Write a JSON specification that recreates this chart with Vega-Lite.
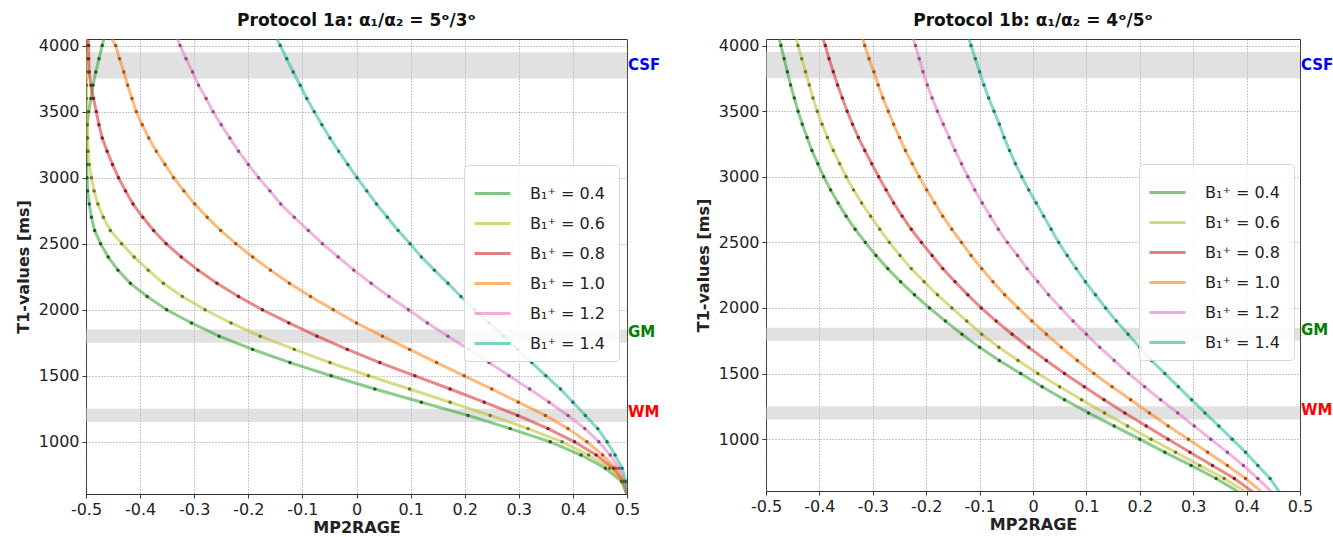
{
"$schema": "https://vega.github.io/schema/vega-lite/v6.json",
"background": "white",
"padding": {"left": 14, "top": 11, "right": 5, "bottom": 0},
"config": {
  "font": "DejaVu Sans",
  "view": {"stroke": "#333", "strokeWidth": 1},
  "axis": {"grid": true, "gridColor": "#777", "gridDash": [1, 2], "gridWidth": 0.8, "domain": false, "tickColor": "#333", "tickSize": 4, "labelFontSize": 16, "labelColor": "#222", "titleFontSize": 16, "titleFontWeight": "bold", "titleColor": "#222", "labelPadding": 3, "labelFlush": false},
  "axisX": {"titlePadding": 2},
  "axisY": {"titlePadding": 7},
  "title": {"fontSize": 17, "fontWeight": "bold", "color": "#111", "offset": 8},
  "legend": {"symbolType": "stroke", "symbolSize": 1296, "symbolStrokeWidth": 3, "symbolOpacity": 0.6, "labelOffset": 18, "labelFontSize": 16, "labelColor": "#222", "rowPadding": 2, "padding": 9, "strokeColor": "#d8d8d8", "fillColor": "rgba(255,255,255,0.85)", "cornerRadius": 4}
},
"datasets": {
  "bands": [
    {"lo": 3750, "hi": 3950, "lab": "CSF", "ly": 3850},
    {"lo": 1750, "hi": 1850, "lab": "GM", "ly": 1830},
    {"lo": 1150, "hi": 1250, "lab": "WM", "ly": 1225}
  ],
  "pts": [
{"p":"a","b":"0.4","t":4050,"m":-0.467},{"p":"a","b":"0.4","t":4000,"m":-0.470},{"p":"a","b":"0.4","t":3900,"m":-0.476},{"p":"a","b":"0.4","t":3800,"m":-0.482},{"p":"a","b":"0.4","t":3700,"m":-0.487},{"p":"a","b":"0.4","t":3600,"m":-0.491},{"p":"a","b":"0.4","t":3500,"m":-0.495},{"p":"a","b":"0.4","t":3400,"m":-0.498},{"p":"a","b":"0.4","t":3300,"m":-0.499},{"p":"a","b":"0.4","t":3200,"m":-0.4995},{"p":"a","b":"0.4","t":3100,"m":-0.499},{"p":"a","b":"0.4","t":3000,"m":-0.498},{"p":"a","b":"0.4","t":2900,"m":-0.497},{"p":"a","b":"0.4","t":2800,"m":-0.494},{"p":"a","b":"0.4","t":2700,"m":-0.490},{"p":"a","b":"0.4","t":2600,"m":-0.484},{"p":"a","b":"0.4","t":2500,"m":-0.473},{"p":"a","b":"0.4","t":2400,"m":-0.459},{"p":"a","b":"0.4","t":2300,"m":-0.441},{"p":"a","b":"0.4","t":2200,"m":-0.418},{"p":"a","b":"0.4","t":2100,"m":-0.387},{"p":"a","b":"0.4","t":2000,"m":-0.351},{"p":"a","b":"0.4","t":1900,"m":-0.305},{"p":"a","b":"0.4","t":1800,"m":-0.254},{"p":"a","b":"0.4","t":1700,"m":-0.192},{"p":"a","b":"0.4","t":1600,"m":-0.123},{"p":"a","b":"0.4","t":1500,"m":-0.047},{"p":"a","b":"0.4","t":1400,"m":0.034},{"p":"a","b":"0.4","t":1300,"m":0.120},{"p":"a","b":"0.4","t":1200,"m":0.206},{"p":"a","b":"0.4","t":1100,"m":0.284},{"p":"a","b":"0.4","t":1000,"m":0.358},{"p":"a","b":"0.4","t":900,"m":0.415},{"p":"a","b":"0.4","t":800,"m":0.460},{"p":"a","b":"0.4","t":700,"m":0.490},{"p":"a","b":"0.4","t":600,"m":0.5},
{"p":"a","b":"0.6","t":4050,"m":-0.499},{"p":"a","b":"0.6","t":4000,"m":-0.499},{"p":"a","b":"0.6","t":3900,"m":-0.499},{"p":"a","b":"0.6","t":3800,"m":-0.499},{"p":"a","b":"0.6","t":3700,"m":-0.499},{"p":"a","b":"0.6","t":3600,"m":-0.499},{"p":"a","b":"0.6","t":3500,"m":-0.498},{"p":"a","b":"0.6","t":3400,"m":-0.498},{"p":"a","b":"0.6","t":3300,"m":-0.497},{"p":"a","b":"0.6","t":3200,"m":-0.496},{"p":"a","b":"0.6","t":3100,"m":-0.494},{"p":"a","b":"0.6","t":3000,"m":-0.490},{"p":"a","b":"0.6","t":2900,"m":-0.485},{"p":"a","b":"0.6","t":2800,"m":-0.478},{"p":"a","b":"0.6","t":2700,"m":-0.468},{"p":"a","b":"0.6","t":2600,"m":-0.455},{"p":"a","b":"0.6","t":2500,"m":-0.434},{"p":"a","b":"0.6","t":2400,"m":-0.411},{"p":"a","b":"0.6","t":2300,"m":-0.385},{"p":"a","b":"0.6","t":2200,"m":-0.357},{"p":"a","b":"0.6","t":2100,"m":-0.322},{"p":"a","b":"0.6","t":2000,"m":-0.280},{"p":"a","b":"0.6","t":1900,"m":-0.232},{"p":"a","b":"0.6","t":1800,"m":-0.178},{"p":"a","b":"0.6","t":1700,"m":-0.115},{"p":"a","b":"0.6","t":1600,"m":-0.049},{"p":"a","b":"0.6","t":1500,"m":0.022},{"p":"a","b":"0.6","t":1400,"m":0.098},{"p":"a","b":"0.6","t":1300,"m":0.173},{"p":"a","b":"0.6","t":1200,"m":0.247},{"p":"a","b":"0.6","t":1100,"m":0.317},{"p":"a","b":"0.6","t":1000,"m":0.380},{"p":"a","b":"0.6","t":900,"m":0.429},{"p":"a","b":"0.6","t":800,"m":0.468},{"p":"a","b":"0.6","t":700,"m":0.492},{"p":"a","b":"0.6","t":600,"m":0.5},
{"p":"a","b":"0.8","t":4050,"m":-0.496},{"p":"a","b":"0.8","t":4000,"m":-0.495},{"p":"a","b":"0.8","t":3900,"m":-0.495},{"p":"a","b":"0.8","t":3800,"m":-0.494},{"p":"a","b":"0.8","t":3700,"m":-0.491},{"p":"a","b":"0.8","t":3600,"m":-0.486},{"p":"a","b":"0.8","t":3500,"m":-0.481},{"p":"a","b":"0.8","t":3400,"m":-0.476},{"p":"a","b":"0.8","t":3300,"m":-0.470},{"p":"a","b":"0.8","t":3200,"m":-0.461},{"p":"a","b":"0.8","t":3100,"m":-0.451},{"p":"a","b":"0.8","t":3000,"m":-0.440},{"p":"a","b":"0.8","t":2900,"m":-0.427},{"p":"a","b":"0.8","t":2800,"m":-0.413},{"p":"a","b":"0.8","t":2700,"m":-0.395},{"p":"a","b":"0.8","t":2600,"m":-0.375},{"p":"a","b":"0.8","t":2500,"m":-0.352},{"p":"a","b":"0.8","t":2400,"m":-0.324},{"p":"a","b":"0.8","t":2300,"m":-0.293},{"p":"a","b":"0.8","t":2200,"m":-0.258},{"p":"a","b":"0.8","t":2100,"m":-0.218},{"p":"a","b":"0.8","t":2000,"m":-0.174},{"p":"a","b":"0.8","t":1900,"m":-0.125},{"p":"a","b":"0.8","t":1800,"m":-0.073},{"p":"a","b":"0.8","t":1700,"m":-0.017},{"p":"a","b":"0.8","t":1600,"m":0.043},{"p":"a","b":"0.8","t":1500,"m":0.108},{"p":"a","b":"0.8","t":1400,"m":0.173},{"p":"a","b":"0.8","t":1300,"m":0.236},{"p":"a","b":"0.8","t":1200,"m":0.298},{"p":"a","b":"0.8","t":1100,"m":0.354},{"p":"a","b":"0.8","t":1000,"m":0.403},{"p":"a","b":"0.8","t":900,"m":0.443},{"p":"a","b":"0.8","t":800,"m":0.475},{"p":"a","b":"0.8","t":700,"m":0.494},{"p":"a","b":"0.8","t":600,"m":0.5},
{"p":"a","b":"1.0","t":4050,"m":-0.452},{"p":"a","b":"1.0","t":4000,"m":-0.445},{"p":"a","b":"1.0","t":3900,"m":-0.438},{"p":"a","b":"1.0","t":3800,"m":-0.430},{"p":"a","b":"1.0","t":3700,"m":-0.423},{"p":"a","b":"1.0","t":3600,"m":-0.415},{"p":"a","b":"1.0","t":3500,"m":-0.407},{"p":"a","b":"1.0","t":3400,"m":-0.396},{"p":"a","b":"1.0","t":3300,"m":-0.384},{"p":"a","b":"1.0","t":3200,"m":-0.370},{"p":"a","b":"1.0","t":3100,"m":-0.354},{"p":"a","b":"1.0","t":3000,"m":-0.338},{"p":"a","b":"1.0","t":2900,"m":-0.319},{"p":"a","b":"1.0","t":2800,"m":-0.299},{"p":"a","b":"1.0","t":2700,"m":-0.276},{"p":"a","b":"1.0","t":2600,"m":-0.251},{"p":"a","b":"1.0","t":2500,"m":-0.223},{"p":"a","b":"1.0","t":2400,"m":-0.192},{"p":"a","b":"1.0","t":2300,"m":-0.159},{"p":"a","b":"1.0","t":2200,"m":-0.124},{"p":"a","b":"1.0","t":2100,"m":-0.085},{"p":"a","b":"1.0","t":2000,"m":-0.043},{"p":"a","b":"1.0","t":1900,"m":0.0},{"p":"a","b":"1.0","t":1800,"m":0.048},{"p":"a","b":"1.0","t":1700,"m":0.098},{"p":"a","b":"1.0","t":1600,"m":0.148},{"p":"a","b":"1.0","t":1500,"m":0.199},{"p":"a","b":"1.0","t":1400,"m":0.250},{"p":"a","b":"1.0","t":1300,"m":0.299},{"p":"a","b":"1.0","t":1200,"m":0.349},{"p":"a","b":"1.0","t":1100,"m":0.391},{"p":"a","b":"1.0","t":1000,"m":0.426},{"p":"a","b":"1.0","t":900,"m":0.455},{"p":"a","b":"1.0","t":800,"m":0.479},{"p":"a","b":"1.0","t":700,"m":0.494},{"p":"a","b":"1.0","t":600,"m":0.5},
{"p":"a","b":"1.2","t":4050,"m":-0.331},{"p":"a","b":"1.2","t":4000,"m":-0.326},{"p":"a","b":"1.2","t":3900,"m":-0.315},{"p":"a","b":"1.2","t":3800,"m":-0.303},{"p":"a","b":"1.2","t":3700,"m":-0.292},{"p":"a","b":"1.2","t":3600,"m":-0.278},{"p":"a","b":"1.2","t":3500,"m":-0.265},{"p":"a","b":"1.2","t":3400,"m":-0.250},{"p":"a","b":"1.2","t":3300,"m":-0.234},{"p":"a","b":"1.2","t":3200,"m":-0.218},{"p":"a","b":"1.2","t":3100,"m":-0.200},{"p":"a","b":"1.2","t":3000,"m":-0.181},{"p":"a","b":"1.2","t":2900,"m":-0.160},{"p":"a","b":"1.2","t":2800,"m":-0.140},{"p":"a","b":"1.2","t":2700,"m":-0.115},{"p":"a","b":"1.2","t":2600,"m":-0.089},{"p":"a","b":"1.2","t":2500,"m":-0.063},{"p":"a","b":"1.2","t":2400,"m":-0.034},{"p":"a","b":"1.2","t":2300,"m":-0.005},{"p":"a","b":"1.2","t":2200,"m":0.027},{"p":"a","b":"1.2","t":2100,"m":0.060},{"p":"a","b":"1.2","t":2000,"m":0.096},{"p":"a","b":"1.2","t":1900,"m":0.131},{"p":"a","b":"1.2","t":1800,"m":0.169},{"p":"a","b":"1.2","t":1700,"m":0.208},{"p":"a","b":"1.2","t":1600,"m":0.245},{"p":"a","b":"1.2","t":1500,"m":0.282},{"p":"a","b":"1.2","t":1400,"m":0.320},{"p":"a","b":"1.2","t":1300,"m":0.356},{"p":"a","b":"1.2","t":1200,"m":0.391},{"p":"a","b":"1.2","t":1100,"m":0.422},{"p":"a","b":"1.2","t":1000,"m":0.448},{"p":"a","b":"1.2","t":900,"m":0.469},{"p":"a","b":"1.2","t":800,"m":0.485},{"p":"a","b":"1.2","t":700,"m":0.496},{"p":"a","b":"1.2","t":600,"m":0.5},
{"p":"a","b":"1.4","t":4050,"m":-0.147},{"p":"a","b":"1.4","t":4000,"m":-0.141},{"p":"a","b":"1.4","t":3900,"m":-0.129},{"p":"a","b":"1.4","t":3800,"m":-0.117},{"p":"a","b":"1.4","t":3700,"m":-0.104},{"p":"a","b":"1.4","t":3600,"m":-0.092},{"p":"a","b":"1.4","t":3500,"m":-0.078},{"p":"a","b":"1.4","t":3400,"m":-0.064},{"p":"a","b":"1.4","t":3300,"m":-0.049},{"p":"a","b":"1.4","t":3200,"m":-0.033},{"p":"a","b":"1.4","t":3100,"m":-0.016},{"p":"a","b":"1.4","t":3000,"m":0.001},{"p":"a","b":"1.4","t":2900,"m":0.019},{"p":"a","b":"1.4","t":2800,"m":0.037},{"p":"a","b":"1.4","t":2700,"m":0.057},{"p":"a","b":"1.4","t":2600,"m":0.077},{"p":"a","b":"1.4","t":2500,"m":0.099},{"p":"a","b":"1.4","t":2400,"m":0.120},{"p":"a","b":"1.4","t":2300,"m":0.144},{"p":"a","b":"1.4","t":2200,"m":0.169},{"p":"a","b":"1.4","t":2100,"m":0.193},{"p":"a","b":"1.4","t":2000,"m":0.218},{"p":"a","b":"1.4","t":1900,"m":0.245},{"p":"a","b":"1.4","t":1800,"m":0.272},{"p":"a","b":"1.4","t":1700,"m":0.298},{"p":"a","b":"1.4","t":1600,"m":0.324},{"p":"a","b":"1.4","t":1500,"m":0.350},{"p":"a","b":"1.4","t":1400,"m":0.377},{"p":"a","b":"1.4","t":1300,"m":0.400},{"p":"a","b":"1.4","t":1200,"m":0.423},{"p":"a","b":"1.4","t":1100,"m":0.446},{"p":"a","b":"1.4","t":1000,"m":0.463},{"p":"a","b":"1.4","t":900,"m":0.478},{"p":"a","b":"1.4","t":800,"m":0.491},{"p":"a","b":"1.4","t":700,"m":0.498},{"p":"a","b":"1.4","t":600,"m":0.5},
{"p":"b","b":"0.4","t":4050,"m":-0.475},{"p":"b","b":"0.4","t":4000,"m":-0.472},{"p":"b","b":"0.4","t":3900,"m":-0.466},{"p":"b","b":"0.4","t":3800,"m":-0.460},{"p":"b","b":"0.4","t":3700,"m":-0.454},{"p":"b","b":"0.4","t":3600,"m":-0.447},{"p":"b","b":"0.4","t":3500,"m":-0.440},{"p":"b","b":"0.4","t":3400,"m":-0.432},{"p":"b","b":"0.4","t":3300,"m":-0.423},{"p":"b","b":"0.4","t":3200,"m":-0.414},{"p":"b","b":"0.4","t":3100,"m":-0.403},{"p":"b","b":"0.4","t":3000,"m":-0.392},{"p":"b","b":"0.4","t":2900,"m":-0.379},{"p":"b","b":"0.4","t":2800,"m":-0.365},{"p":"b","b":"0.4","t":2700,"m":-0.350},{"p":"b","b":"0.4","t":2600,"m":-0.333},{"p":"b","b":"0.4","t":2500,"m":-0.314},{"p":"b","b":"0.4","t":2400,"m":-0.294},{"p":"b","b":"0.4","t":2300,"m":-0.272},{"p":"b","b":"0.4","t":2200,"m":-0.248},{"p":"b","b":"0.4","t":2100,"m":-0.222},{"p":"b","b":"0.4","t":2000,"m":-0.194},{"p":"b","b":"0.4","t":1900,"m":-0.164},{"p":"b","b":"0.4","t":1800,"m":-0.133},{"p":"b","b":"0.4","t":1700,"m":-0.100},{"p":"b","b":"0.4","t":1600,"m":-0.063},{"p":"b","b":"0.4","t":1500,"m":-0.023},{"p":"b","b":"0.4","t":1400,"m":0.017},{"p":"b","b":"0.4","t":1300,"m":0.059},{"p":"b","b":"0.4","t":1200,"m":0.104},{"p":"b","b":"0.4","t":1100,"m":0.152},{"p":"b","b":"0.4","t":1000,"m":0.200},{"p":"b","b":"0.4","t":900,"m":0.247},{"p":"b","b":"0.4","t":800,"m":0.296},{"p":"b","b":"0.4","t":700,"m":0.343},{"p":"b","b":"0.4","t":600,"m":0.384},
{"p":"b","b":"0.6","t":4050,"m":-0.443},{"p":"b","b":"0.6","t":4000,"m":-0.440},{"p":"b","b":"0.6","t":3900,"m":-0.433},{"p":"b","b":"0.6","t":3800,"m":-0.426},{"p":"b","b":"0.6","t":3700,"m":-0.419},{"p":"b","b":"0.6","t":3600,"m":-0.412},{"p":"b","b":"0.6","t":3500,"m":-0.404},{"p":"b","b":"0.6","t":3400,"m":-0.395},{"p":"b","b":"0.6","t":3300,"m":-0.385},{"p":"b","b":"0.6","t":3200,"m":-0.374},{"p":"b","b":"0.6","t":3100,"m":-0.362},{"p":"b","b":"0.6","t":3000,"m":-0.350},{"p":"b","b":"0.6","t":2900,"m":-0.336},{"p":"b","b":"0.6","t":2800,"m":-0.321},{"p":"b","b":"0.6","t":2700,"m":-0.304},{"p":"b","b":"0.6","t":2600,"m":-0.287},{"p":"b","b":"0.6","t":2500,"m":-0.269},{"p":"b","b":"0.6","t":2400,"m":-0.249},{"p":"b","b":"0.6","t":2300,"m":-0.228},{"p":"b","b":"0.6","t":2200,"m":-0.204},{"p":"b","b":"0.6","t":2100,"m":-0.179},{"p":"b","b":"0.6","t":2000,"m":-0.152},{"p":"b","b":"0.6","t":1900,"m":-0.124},{"p":"b","b":"0.6","t":1800,"m":-0.096},{"p":"b","b":"0.6","t":1700,"m":-0.064},{"p":"b","b":"0.6","t":1600,"m":-0.028},{"p":"b","b":"0.6","t":1500,"m":0.009},{"p":"b","b":"0.6","t":1400,"m":0.050},{"p":"b","b":"0.6","t":1300,"m":0.091},{"p":"b","b":"0.6","t":1200,"m":0.134},{"p":"b","b":"0.6","t":1100,"m":0.177},{"p":"b","b":"0.6","t":1000,"m":0.221},{"p":"b","b":"0.6","t":900,"m":0.267},{"p":"b","b":"0.6","t":800,"m":0.312},{"p":"b","b":"0.6","t":700,"m":0.358},{"p":"b","b":"0.6","t":600,"m":0.398},
{"p":"b","b":"0.8","t":4050,"m":-0.393},{"p":"b","b":"0.8","t":4000,"m":-0.389},{"p":"b","b":"0.8","t":3900,"m":-0.382},{"p":"b","b":"0.8","t":3800,"m":-0.374},{"p":"b","b":"0.8","t":3700,"m":-0.366},{"p":"b","b":"0.8","t":3600,"m":-0.357},{"p":"b","b":"0.8","t":3500,"m":-0.348},{"p":"b","b":"0.8","t":3400,"m":-0.338},{"p":"b","b":"0.8","t":3300,"m":-0.327},{"p":"b","b":"0.8","t":3200,"m":-0.315},{"p":"b","b":"0.8","t":3100,"m":-0.302},{"p":"b","b":"0.8","t":3000,"m":-0.289},{"p":"b","b":"0.8","t":2900,"m":-0.275},{"p":"b","b":"0.8","t":2800,"m":-0.261},{"p":"b","b":"0.8","t":2700,"m":-0.245},{"p":"b","b":"0.8","t":2600,"m":-0.228},{"p":"b","b":"0.8","t":2500,"m":-0.209},{"p":"b","b":"0.8","t":2400,"m":-0.189},{"p":"b","b":"0.8","t":2300,"m":-0.169},{"p":"b","b":"0.8","t":2200,"m":-0.146},{"p":"b","b":"0.8","t":2100,"m":-0.122},{"p":"b","b":"0.8","t":2000,"m":-0.097},{"p":"b","b":"0.8","t":1900,"m":-0.069},{"p":"b","b":"0.8","t":1800,"m":-0.039},{"p":"b","b":"0.8","t":1700,"m":-0.008},{"p":"b","b":"0.8","t":1600,"m":0.025},{"p":"b","b":"0.8","t":1500,"m":0.059},{"p":"b","b":"0.8","t":1400,"m":0.096},{"p":"b","b":"0.8","t":1300,"m":0.133},{"p":"b","b":"0.8","t":1200,"m":0.172},{"p":"b","b":"0.8","t":1100,"m":0.212},{"p":"b","b":"0.8","t":1000,"m":0.253},{"p":"b","b":"0.8","t":900,"m":0.294},{"p":"b","b":"0.8","t":800,"m":0.336},{"p":"b","b":"0.8","t":700,"m":0.377},{"p":"b","b":"0.8","t":600,"m":0.411},
{"p":"b","b":"1.0","t":4050,"m":-0.319},{"p":"b","b":"1.0","t":4000,"m":-0.315},{"p":"b","b":"1.0","t":3900,"m":-0.307},{"p":"b","b":"1.0","t":3800,"m":-0.298},{"p":"b","b":"1.0","t":3700,"m":-0.290},{"p":"b","b":"1.0","t":3600,"m":-0.281},{"p":"b","b":"1.0","t":3500,"m":-0.271},{"p":"b","b":"1.0","t":3400,"m":-0.261},{"p":"b","b":"1.0","t":3300,"m":-0.250},{"p":"b","b":"1.0","t":3200,"m":-0.239},{"p":"b","b":"1.0","t":3100,"m":-0.226},{"p":"b","b":"1.0","t":3000,"m":-0.213},{"p":"b","b":"1.0","t":2900,"m":-0.199},{"p":"b","b":"1.0","t":2800,"m":-0.184},{"p":"b","b":"1.0","t":2700,"m":-0.169},{"p":"b","b":"1.0","t":2600,"m":-0.152},{"p":"b","b":"1.0","t":2500,"m":-0.134},{"p":"b","b":"1.0","t":2400,"m":-0.116},{"p":"b","b":"1.0","t":2300,"m":-0.096},{"p":"b","b":"1.0","t":2200,"m":-0.075},{"p":"b","b":"1.0","t":2100,"m":-0.053},{"p":"b","b":"1.0","t":2000,"m":-0.028},{"p":"b","b":"1.0","t":1900,"m":-0.002},{"p":"b","b":"1.0","t":1800,"m":0.025},{"p":"b","b":"1.0","t":1700,"m":0.053},{"p":"b","b":"1.0","t":1600,"m":0.083},{"p":"b","b":"1.0","t":1500,"m":0.114},{"p":"b","b":"1.0","t":1400,"m":0.148},{"p":"b","b":"1.0","t":1300,"m":0.183},{"p":"b","b":"1.0","t":1200,"m":0.218},{"p":"b","b":"1.0","t":1100,"m":0.253},{"p":"b","b":"1.0","t":1000,"m":0.291},{"p":"b","b":"1.0","t":900,"m":0.327},{"p":"b","b":"1.0","t":800,"m":0.364},{"p":"b","b":"1.0","t":700,"m":0.398},{"p":"b","b":"1.0","t":600,"m":0.428},
{"p":"b","b":"1.2","t":4050,"m":-0.224},{"p":"b","b":"1.2","t":4000,"m":-0.220},{"p":"b","b":"1.2","t":3900,"m":-0.213},{"p":"b","b":"1.2","t":3800,"m":-0.206},{"p":"b","b":"1.2","t":3700,"m":-0.198},{"p":"b","b":"1.2","t":3600,"m":-0.189},{"p":"b","b":"1.2","t":3500,"m":-0.179},{"p":"b","b":"1.2","t":3400,"m":-0.168},{"p":"b","b":"1.2","t":3300,"m":-0.157},{"p":"b","b":"1.2","t":3200,"m":-0.146},{"p":"b","b":"1.2","t":3100,"m":-0.134},{"p":"b","b":"1.2","t":3000,"m":-0.122},{"p":"b","b":"1.2","t":2900,"m":-0.109},{"p":"b","b":"1.2","t":2800,"m":-0.095},{"p":"b","b":"1.2","t":2700,"m":-0.080},{"p":"b","b":"1.2","t":2600,"m":-0.065},{"p":"b","b":"1.2","t":2500,"m":-0.048},{"p":"b","b":"1.2","t":2400,"m":-0.029},{"p":"b","b":"1.2","t":2300,"m":-0.011},{"p":"b","b":"1.2","t":2200,"m":0.009},{"p":"b","b":"1.2","t":2100,"m":0.029},{"p":"b","b":"1.2","t":2000,"m":0.052},{"p":"b","b":"1.2","t":1900,"m":0.075},{"p":"b","b":"1.2","t":1800,"m":0.100},{"p":"b","b":"1.2","t":1700,"m":0.125},{"p":"b","b":"1.2","t":1600,"m":0.152},{"p":"b","b":"1.2","t":1500,"m":0.179},{"p":"b","b":"1.2","t":1400,"m":0.209},{"p":"b","b":"1.2","t":1300,"m":0.239},{"p":"b","b":"1.2","t":1200,"m":0.271},{"p":"b","b":"1.2","t":1100,"m":0.302},{"p":"b","b":"1.2","t":1000,"m":0.333},{"p":"b","b":"1.2","t":900,"m":0.364},{"p":"b","b":"1.2","t":800,"m":0.394},{"p":"b","b":"1.2","t":700,"m":0.421},{"p":"b","b":"1.2","t":600,"m":0.446},
{"p":"b","b":"1.4","t":4050,"m":-0.120},{"p":"b","b":"1.4","t":4000,"m":-0.116},{"p":"b","b":"1.4","t":3900,"m":-0.108},{"p":"b","b":"1.4","t":3800,"m":-0.100},{"p":"b","b":"1.4","t":3700,"m":-0.092},{"p":"b","b":"1.4","t":3600,"m":-0.083},{"p":"b","b":"1.4","t":3500,"m":-0.073},{"p":"b","b":"1.4","t":3400,"m":-0.063},{"p":"b","b":"1.4","t":3300,"m":-0.054},{"p":"b","b":"1.4","t":3200,"m":-0.044},{"p":"b","b":"1.4","t":3100,"m":-0.033},{"p":"b","b":"1.4","t":3000,"m":-0.021},{"p":"b","b":"1.4","t":2900,"m":-0.008},{"p":"b","b":"1.4","t":2800,"m":0.006},{"p":"b","b":"1.4","t":2700,"m":0.020},{"p":"b","b":"1.4","t":2600,"m":0.034},{"p":"b","b":"1.4","t":2500,"m":0.048},{"p":"b","b":"1.4","t":2400,"m":0.064},{"p":"b","b":"1.4","t":2300,"m":0.081},{"p":"b","b":"1.4","t":2200,"m":0.098},{"p":"b","b":"1.4","t":2100,"m":0.117},{"p":"b","b":"1.4","t":2000,"m":0.136},{"p":"b","b":"1.4","t":1900,"m":0.156},{"p":"b","b":"1.4","t":1800,"m":0.178},{"p":"b","b":"1.4","t":1700,"m":0.200},{"p":"b","b":"1.4","t":1600,"m":0.222},{"p":"b","b":"1.4","t":1500,"m":0.247},{"p":"b","b":"1.4","t":1400,"m":0.272},{"p":"b","b":"1.4","t":1300,"m":0.297},{"p":"b","b":"1.4","t":1200,"m":0.322},{"p":"b","b":"1.4","t":1100,"m":0.348},{"p":"b","b":"1.4","t":1000,"m":0.373},{"p":"b","b":"1.4","t":900,"m":0.398},{"p":"b","b":"1.4","t":800,"m":0.421},{"p":"b","b":"1.4","t":700,"m":0.444},{"p":"b","b":"1.4","t":600,"m":0.461}
  ]
},
"bounds": "flush",
"spacing": 139,
"resolve": {"scale": {"color": "independent", "fill": "independent"}, "legend": {"color": "independent", "fill": "independent"}},
"hconcat": [
  {
    "width": 541, "height": 455,
    "title": {"text": "Protocol 1a: α₁/α₂ = 5ᵒ/3ᵒ"},
    "layer": [
      {"data": {"name": "bands"}, "mark": {"type": "rect", "color": "#c4c4c4", "opacity": 0.5},
       "encoding": {"y": {"field": "lo", "type": "quantitative", "title": "T1-values [ms]"}, "y2": {"field": "hi"}, "x": {"datum": -0.5, "type": "quantitative", "title": "MP2RAGE"}, "x2": {"datum": 0.5}}},
      {"data": {"name": "bands"}, "transform": [{"filter": "datum.lab == 'CSF'"}], "mark": {"type": "text", "align": "left", "dx": 1, "fontWeight": "bold", "fontSize": 15, "color": "#0000ff", "clip": false},
       "encoding": {"y": {"field": "ly", "type": "quantitative", "title": "T1-values [ms]"}, "x": {"datum": 0.5, "type": "quantitative", "title": "MP2RAGE"}, "text": {"field": "lab"}}},
      {"data": {"name": "bands"}, "transform": [{"filter": "datum.lab == 'GM'"}], "mark": {"type": "text", "align": "left", "dx": 1, "fontWeight": "bold", "fontSize": 15, "color": "#008000", "clip": false},
       "encoding": {"y": {"field": "ly", "type": "quantitative", "title": "T1-values [ms]"}, "x": {"datum": 0.5, "type": "quantitative", "title": "MP2RAGE"}, "text": {"field": "lab"}}},
      {"data": {"name": "bands"}, "transform": [{"filter": "datum.lab == 'WM'"}], "mark": {"type": "text", "align": "left", "dx": 1, "fontWeight": "bold", "fontSize": 15, "color": "#ff0000", "clip": false},
       "encoding": {"y": {"field": "ly", "type": "quantitative", "title": "T1-values [ms]"}, "x": {"datum": 0.5, "type": "quantitative", "title": "MP2RAGE"}, "text": {"field": "lab"}}},
      {"data": {"name": "pts"}, "transform": [{"filter": "datum.p == 'a'"}],
       "mark": {"type": "line", "strokeWidth": 3, "opacity": 0.55, "clip": true},
       "encoding": {
         "x": {"field": "m", "type": "quantitative", "title": "MP2RAGE", "scale": {"domain": [-0.5, 0.5], "nice": false, "zero": false}, "axis": {"values": [-0.5, -0.4, -0.3, -0.2, -0.1, 0, 0.1, 0.2, 0.3, 0.4, 0.5], "labelExpr": "datum.value + ''"}},
         "y": {"field": "t", "type": "quantitative", "title": "T1-values [ms]", "scale": {"domain": [605, 4050], "nice": false, "zero": false}, "axis": {"values": [1000, 1500, 2000, 2500, 3000, 3500, 4000], "format": "d"}},
         "order": {"field": "t", "type": "quantitative"},
         "color": {"field": "b", "type": "nominal", "scale": {"domain": ["0.4", "0.6", "0.8", "1.0", "1.2", "1.4"], "range": ["#2ca02c", "#bcbd22", "#d62728", "#ff7f0e", "#e377c2", "#1fb89a"]},
           "legend": {"orient": "none", "legendX": 378, "legendY": 126, "title": null, "labelExpr": "'B₁⁺ =  ' + datum.label"}}
       }},
      {"data": {"name": "pts"}, "transform": [{"filter": "datum.p == 'a' && datum.t >= 700 && datum.t <= 4000"}],
       "mark": {"type": "point", "filled": true, "size": 12, "opacity": 0.9, "clip": true},
       "encoding": {
         "x": {"field": "m", "type": "quantitative", "title": "MP2RAGE"},
         "y": {"field": "t", "type": "quantitative", "title": "T1-values [ms]"},
         "fill": {"field": "b", "type": "nominal", "scale": {"domain": ["0.4", "0.6", "0.8", "1.0", "1.2", "1.4"], "range": ["#145214", "#66660f", "#7a1515", "#9a4a05", "#8a3f78", "#0f6b5a"]}, "legend": null}
       }}
    ]
  },
  {
    "width": 534, "height": 452,
    "title": {"text": "Protocol 1b: α₁/α₂ = 4ᵒ/5ᵒ"},
    "layer": [
      {"data": {"name": "bands"}, "mark": {"type": "rect", "color": "#c4c4c4", "opacity": 0.5},
       "encoding": {"y": {"field": "lo", "type": "quantitative", "title": "T1-values [ms]"}, "y2": {"field": "hi"}, "x": {"datum": -0.5, "type": "quantitative", "title": "MP2RAGE"}, "x2": {"datum": 0.5}}},
      {"data": {"name": "bands"}, "transform": [{"filter": "datum.lab == 'CSF'"}], "mark": {"type": "text", "align": "left", "dx": 1, "fontWeight": "bold", "fontSize": 15, "color": "#0000ff", "clip": false},
       "encoding": {"y": {"field": "ly", "type": "quantitative", "title": "T1-values [ms]"}, "x": {"datum": 0.5, "type": "quantitative", "title": "MP2RAGE"}, "text": {"field": "lab"}}},
      {"data": {"name": "bands"}, "transform": [{"filter": "datum.lab == 'GM'"}], "mark": {"type": "text", "align": "left", "dx": 1, "fontWeight": "bold", "fontSize": 15, "color": "#008000", "clip": false},
       "encoding": {"y": {"field": "ly", "type": "quantitative", "title": "T1-values [ms]"}, "x": {"datum": 0.5, "type": "quantitative", "title": "MP2RAGE"}, "text": {"field": "lab"}}},
      {"data": {"name": "bands"}, "transform": [{"filter": "datum.lab == 'WM'"}], "mark": {"type": "text", "align": "left", "dx": 1, "fontWeight": "bold", "fontSize": 15, "color": "#ff0000", "clip": false},
       "encoding": {"y": {"field": "ly", "type": "quantitative", "title": "T1-values [ms]"}, "x": {"datum": 0.5, "type": "quantitative", "title": "MP2RAGE"}, "text": {"field": "lab"}}},
      {"data": {"name": "pts"}, "transform": [{"filter": "datum.p == 'b'"}],
       "mark": {"type": "line", "strokeWidth": 3, "opacity": 0.55, "clip": true},
       "encoding": {
         "x": {"field": "m", "type": "quantitative", "title": "MP2RAGE", "scale": {"domain": [-0.5, 0.5], "nice": false, "zero": false}, "axis": {"values": [-0.5, -0.4, -0.3, -0.2, -0.1, 0, 0.1, 0.2, 0.3, 0.4, 0.5], "labelExpr": "datum.value + ''"}},
         "y": {"field": "t", "type": "quantitative", "title": "T1-values [ms]", "scale": {"domain": [605, 4050], "nice": false, "zero": false}, "axis": {"values": [1000, 1500, 2000, 2500, 3000, 3500, 4000], "format": "d"}},
         "order": {"field": "t", "type": "quantitative"},
         "color": {"field": "b", "type": "nominal", "scale": {"domain": ["0.4", "0.6", "0.8", "1.0", "1.2", "1.4"], "range": ["#2ca02c", "#bcbd22", "#d62728", "#ff7f0e", "#e377c2", "#1fb89a"]},
           "legend": {"orient": "none", "legendX": 373, "legendY": 125, "title": null, "labelExpr": "'B₁⁺ =  ' + datum.label"}}
       }},
      {"data": {"name": "pts"}, "transform": [{"filter": "datum.p == 'b' && datum.t >= 700 && datum.t <= 4000"}],
       "mark": {"type": "point", "filled": true, "size": 12, "opacity": 0.9, "clip": true},
       "encoding": {
         "x": {"field": "m", "type": "quantitative", "title": "MP2RAGE"},
         "y": {"field": "t", "type": "quantitative", "title": "T1-values [ms]"},
         "fill": {"field": "b", "type": "nominal", "scale": {"domain": ["0.4", "0.6", "0.8", "1.0", "1.2", "1.4"], "range": ["#145214", "#66660f", "#7a1515", "#9a4a05", "#8a3f78", "#0f6b5a"]}, "legend": null}
       }}
    ]
  }
]
}
